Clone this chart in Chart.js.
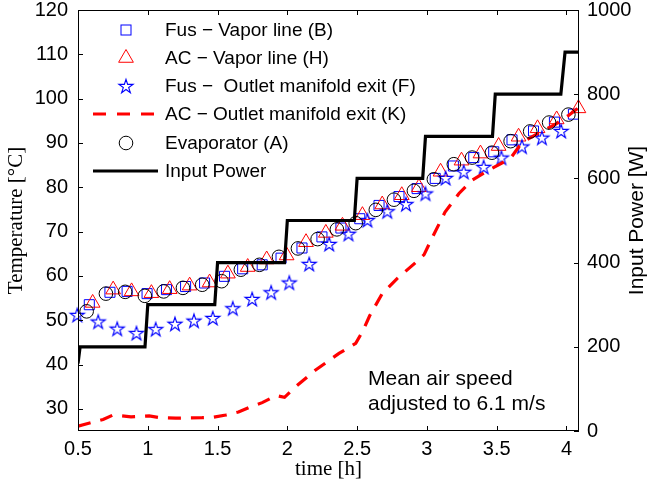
<!DOCTYPE html>
<html><head><meta charset="utf-8">
<script src="https://cdn.jsdelivr.net/npm/chart.js@4"></script>
<style>html,body{margin:0;padding:0;background:#fff}</style>
</head><body>
<canvas id="c" width="651" height="489"></canvas>
<script>
// ---------- data ----------
const xTicks = [0.5, 1, 1.5, 2, 2.5, 3, 3.5, 4];
const tempTicks = [30, 40, 50, 60, 70, 80, 90, 100, 110, 120];
const powerTicks = [0, 200, 400, 600, 800, 1000];

const fusVaporTime = [0.581,0.729,0.852,0.995,1.134,1.271,1.407,1.55,1.68,1.82,1.955,2.105,2.248,2.384,2.519,2.657,2.80,2.93,3.06,3.19,3.336,3.479,3.61,3.764,3.914,4.05];
const fusVaporTemp = [53.5,56.3,56.5,56.0,56.9,57.6,58.4,59.9,61.6,62.5,64.0,66.3,68.8,70.8,72.9,75.9,77.9,79.7,82.0,84.8,86.7,88.0,90.7,92.7,94.7,96.5];

const acVaporTime = [0.605,0.752,0.884,1.026,1.157,1.30,1.443,1.574,1.716,1.852,1.995,2.134,2.276,2.395,2.538,2.68,2.82,2.943,3.098,3.248,3.384,3.514,3.657,3.793,3.93,4.086];
const acVaporTemp = [53.9,56.9,56.5,56.1,57.0,57.8,58.5,60.5,62.0,63.7,64.6,67.6,69.7,71.3,73.7,76.1,78.2,80.0,83.5,86.0,87.6,89.3,91.4,93.3,95.3,97.8];

const fusOutletTime = [0.495,0.645,0.781,0.919,1.057,1.195,1.331,1.466,1.609,1.748,1.884,2.014,2.157,2.30,2.438,2.574,2.716,2.85,2.99,3.134,3.264,3.407,3.534,3.681,3.824,3.962];
const fusOutletTemp = [51.2,49.7,48.1,47.1,48.0,49.2,49.9,50.5,52.7,54.8,56.3,58.5,62.7,67.2,69.5,72.6,74.6,76.2,78.6,82.1,83.5,84.6,86.7,89.2,91.2,92.7];

const acOutletTime = [0.50,0.68,0.75,0.88,1.01,1.09,1.20,1.39,1.47,1.56,1.65,1.74,1.82,1.92,1.98,2.06,2.20,2.37,2.49,2.54,2.59,2.68,2.79,2.93,2.98,3.03,3.13,3.23,3.32,3.44,3.54,3.61,3.66,3.71,3.80,3.92,4.01,4.09];
const acOutletTemp = [26.1,27.6,28.6,28.2,28.4,28.0,27.9,28.0,28.1,28.6,29.3,30.5,31.4,33.0,32.6,35.0,38.7,42.5,44.8,47.5,51.0,56.0,59.5,63.3,64.8,68.1,74.4,78.6,81.5,83.8,85.5,87.0,89.2,90.6,92.2,94.2,96.1,98.0];

const evapTime = [0.562,0.70,0.838,0.979,1.114,1.252,1.39,1.529,1.667,1.80,1.94,2.076,2.217,2.355,2.49,2.634,2.764,2.907,3.05,3.193,3.324,3.466,3.60,3.74,3.876,4.014];
const evapTemp = [52.0,56.0,56.4,55.5,56.5,57.3,58.0,58.8,61.4,62.5,64.3,66.2,68.3,70.5,71.9,74.9,77.2,79.2,81.8,85.2,86.7,87.8,90.4,92.6,94.6,96.4];

const powerTime = [0.5,0.515,0.98,1.0,1.48,1.5,1.98,2.0,2.48,2.5,2.97,2.99,3.47,3.49,3.96,3.99,4.09];
const powerWatt = [160,200,200,300,300,400,400,500,500,600,600,700,700,800,800,900,900];

const legendLabels = ["Fus \u2212 Vapor line (B)", "AC \u2212 Vapor line (H)", "Fus \u2212  Outlet manifold exit (F)", "AC \u2212 Outlet manifold exit (K)", "Evaporator (A)", "Input Power"];
const noteLines = ["Mean air speed", "adjusted to 6.1 m/s"];

// ---------- helpers ----------
const SANS = "'Liberation Sans', Arial, Helvetica, sans-serif";
const SERIF = "'Liberation Serif', 'Times New Roman', serif";
const BLUE = '#0000ff', RED = '#ff0000';
const pts = (xs, ys) => xs.map((x, i) => ({x, y: ys[i]}));

function makeStar(R, color, lw) {
  const s = 2 * Math.ceil(R + 2);
  const c = document.createElement('canvas'); c.width = s; c.height = s;
  const g = c.getContext('2d');
  g.strokeStyle = color; g.lineWidth = lw; g.lineJoin = 'miter';
  g.beginPath();
  const r = R * 0.382;
  const cy = s / 2 + R * 0.095;
  for (let i = 0; i < 10; i++) {
    const a = -Math.PI / 2 + i * Math.PI / 5;
    const rr = i % 2 ? r : R;
    const px = s / 2 + rr * Math.cos(a), py = cy + rr * Math.sin(a);
    if (i) g.lineTo(px, py); else g.moveTo(px, py);
  }
  g.closePath(); g.stroke();
  return c;
}
const starImg = makeStar(7.4, BLUE, 1.15);

function fixScale(dim, val) {
  return s => { s[dim] = val; s.paddingTop = 0; s.paddingBottom = 0; s.paddingLeft = 0; s.paddingRight = 0; };
}

const TRI_R = 8.5;

const decor = {
  id: 'decor',
  afterDraw(chart) {
    const ctx = chart.ctx, a = chart.chartArea;
    const sx = chart.scales.x, sy = chart.scales.y, sy1 = chart.scales.y1;
    ctx.save();
    // box
    ctx.strokeStyle = '#000'; ctx.lineWidth = 1; ctx.setLineDash([]);
    ctx.strokeRect(a.left + 0.5, a.top + 0.5, a.right - a.left - 1, a.bottom - a.top - 1);
    const TL = 5;
    ctx.beginPath();
    xTicks.forEach(v => {
      const x = Math.round(sx.getPixelForValue(v)) + 0.5;
      ctx.moveTo(x, a.bottom); ctx.lineTo(x, a.bottom - TL);
      ctx.moveTo(x, a.top); ctx.lineTo(x, a.top + TL);
    });
    tempTicks.forEach(v => {
      const y = Math.round(sy.getPixelForValue(v)) + 0.5;
      ctx.moveTo(a.left, y); ctx.lineTo(a.left + TL, y);
    });
    powerTicks.forEach(v => {
      const y = Math.round(sy1.getPixelForValue(v)) + 0.5;
      ctx.moveTo(a.right, y); ctx.lineTo(a.right - TL, y);
    });
    ctx.stroke();

    // legend
    const rowsY = [30, 58, 86, 114, 143, 171];
    const mx = 126, lx0 = 93, lx1 = 158, tx = 165;
    rowsY.forEach((y, i) => {
      ctx.save();
      if (i === 0) {
        ctx.strokeStyle = BLUE; ctx.lineWidth = 1;
        ctx.strokeRect(mx - 5, y - 5, 10, 10);
      } else if (i === 1) {
        const r = TRI_R;
        ctx.strokeStyle = RED; ctx.lineWidth = 1;
        ctx.beginPath();
        ctx.moveTo(mx, y - r);
        ctx.lineTo(mx + r * Math.sin(Math.PI / 3), y + r / 2);
        ctx.lineTo(mx - r * Math.sin(Math.PI / 3), y + r / 2);
        ctx.closePath(); ctx.stroke();
      } else if (i === 2) {
        ctx.drawImage(starImg, mx - starImg.width / 2, y - starImg.height / 2);
      } else if (i === 3) {
        ctx.strokeStyle = RED; ctx.lineWidth = 3.2; ctx.setLineDash([13, 11]);
        ctx.beginPath(); ctx.moveTo(lx0, y); ctx.lineTo(lx1, y); ctx.stroke();
      } else if (i === 4) {
        ctx.strokeStyle = '#000'; ctx.lineWidth = 1;
        ctx.beginPath(); ctx.arc(mx, y, 6.8, 0, Math.PI * 2); ctx.stroke();
      } else {
        ctx.strokeStyle = '#000'; ctx.lineWidth = 3.2;
        ctx.beginPath(); ctx.moveTo(lx0, y); ctx.lineTo(lx1, y); ctx.stroke();
      }
      ctx.restore();
      ctx.fillStyle = '#000'; ctx.font = '19px ' + SANS;
      ctx.textAlign = 'left'; ctx.textBaseline = 'middle';
      ctx.fillText(legendLabels[i], tx, y + 1);
    });

    // annotation
    ctx.font = '21px ' + SANS; ctx.textAlign = 'left'; ctx.textBaseline = 'middle';
    ctx.fillText(noteLines[0], 368, 379);
    ctx.fillText(noteLines[1], 368, 404);

    // axis titles
    ctx.textAlign = 'center'; ctx.textBaseline = 'middle';
    ctx.font = '21px ' + SERIF;
    ctx.fillText('time [h]', (a.left + a.right) / 2, 469);
    ctx.save(); ctx.translate(16, (a.top + a.bottom) / 2); ctx.rotate(-Math.PI / 2);
    ctx.fillText('Temperature [\u00B0C]', 0, 0); ctx.restore();
    ctx.save(); ctx.font = '21px ' + SANS; ctx.translate(637, (a.top + a.bottom) / 2); ctx.rotate(-Math.PI / 2);
    ctx.fillText('Input Power [W]', 0, 0); ctx.restore();
    ctx.restore();
  }
};

new Chart(document.getElementById('c'), {
  type: 'scatter',
  data: {
    datasets: [
      {label: 'B', data: pts(fusVaporTime, fusVaporTemp), yAxisID: 'y', order: 5, showLine: false, clip: false,
       pointStyle: 'rect', pointRadius: 7.1, pointBorderColor: BLUE, pointBackgroundColor: 'rgba(0,0,0,0)', pointBorderWidth: 1},
      {label: 'H', data: pts(acVaporTime, acVaporTemp), yAxisID: 'y', order: 4, showLine: false, clip: false,
       pointStyle: 'triangle', pointRadius: TRI_R, pointBorderColor: RED, pointBackgroundColor: 'rgba(0,0,0,0)', pointBorderWidth: 1},
      {label: 'F', data: pts(fusOutletTime, fusOutletTemp), yAxisID: 'y', order: 3, showLine: false, clip: false,
       pointStyle: starImg, pointRadius: 7},
      {label: 'K', data: pts(acOutletTime, acOutletTemp), yAxisID: 'y', order: 2, showLine: true, pointRadius: 0,
       borderColor: RED, borderWidth: 3.2, borderDash: [13, 10], tension: 0, fill: false},
      {label: 'A', data: pts(evapTime, evapTemp), yAxisID: 'y', order: 1, showLine: false, clip: false,
       pointStyle: 'circle', pointRadius: 6.8, pointBorderColor: '#000', pointBackgroundColor: 'rgba(0,0,0,0)', pointBorderWidth: 1},
      {label: 'P', data: pts(powerTime, powerWatt), yAxisID: 'y1', order: 0, showLine: true, pointRadius: 0,
       borderColor: '#000', borderWidth: 3.2, tension: 0, fill: false, borderJoinStyle: 'miter'}
    ]
  },
  options: {
    responsive: false, animation: false, devicePixelRatio: 1,
    layout: {padding: {top: 10, left: 0, right: 0, bottom: 0}},
    plugins: {legend: {display: false}, tooltip: {enabled: false}},
    events: [],
    scales: {
      x: {type: 'linear', position: 'bottom', min: 0.5, max: 4.09,
        afterBuildTicks: s => { s.ticks = xTicks.map(v => ({value: v})); },
        afterFit: fixScale('height', 58),
        grid: {display: false, drawTicks: false}, border: {display: false},
        ticks: {color: '#000', font: {family: SANS, size: 20}, padding: 6, maxRotation: 0, autoSkip: false,
          callback: v => String(v)}},
      y: {type: 'linear', position: 'left', min: 25, max: 120,
        afterBuildTicks: s => { s.ticks = tempTicks.map(v => ({value: v})); },
        afterFit: fixScale('width', 78),
        grid: {display: false, drawTicks: false}, border: {display: false},
        ticks: {color: '#000', font: {family: SANS, size: 20}, padding: 10, callback: v => String(v)}},
      y1: {type: 'linear', position: 'right', min: 0, max: 1000,
        afterBuildTicks: s => { s.ticks = powerTicks.map(v => ({value: v})); },
        afterFit: fixScale('width', 72),
        grid: {display: false, drawTicks: false}, border: {display: false},
        ticks: {color: '#000', font: {family: SANS, size: 20}, padding: 8, callback: v => String(v)}}
    }
  },
  plugins: [decor]
});
</script>
</body></html>
